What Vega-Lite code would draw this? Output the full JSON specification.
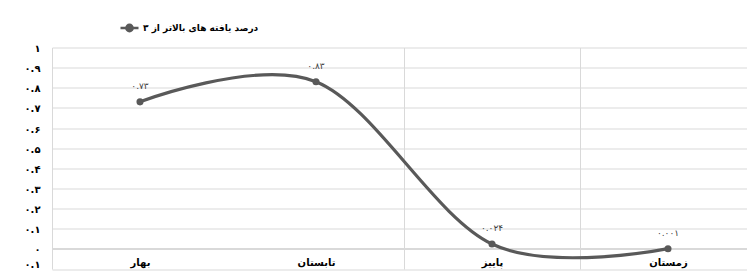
{
  "$schema": "https://vega.github.io/schema/vega-lite/v6.json",
  "autosize": "none",
  "width": 704,
  "height": 221.5,
  "padding": {"left": 52, "top": 47.5, "right": 0, "bottom": 7},
  "data": {
    "values": [
      {"season": "بهار", "value": 0.73, "label": "۰.۷۳", "series": "درصد یافته های بالاتر از ۳"},
      {"season": "تابستان", "value": 0.83, "label": "۰.۸۳", "series": "درصد یافته های بالاتر از ۳"},
      {"season": "پاییز", "value": 0.024, "label": "۰.۰۲۴", "series": "درصد یافته های بالاتر از ۳"},
      {"season": "زمستان", "value": 0.001, "label": "۰.۰۰۱", "series": "درصد یافته های بالاتر از ۳"}
    ]
  },
  "encoding": {
    "x": {
      "field": "season",
      "type": "nominal",
      "sort": null,
      "scale": {"paddingInner": 0, "paddingOuter": 0},
      "axis": {
        "title": null,
        "domain": false,
        "ticks": false,
        "labelAngle": 0,
        "labelPadding": -12,
        "labelFont": "DejaVu Sans",
        "labelFontSize": 10,
        "labelFontWeight": "bold",
        "labelColor": "#000000",
        "grid": true,
        "tickBand": "extent",
        "gridColor": {"condition": {"test": "datum.value === 'بهار'", "value": "transparent"}, "value": "#d9d9d9"},
        "gridWidth": 1
      }
    },
    "y": {
      "field": "value",
      "type": "quantitative",
      "scale": {"domain": [-0.1, 1], "nice": false, "zero": false},
      "axis": {
        "title": null,
        "domain": false,
        "ticks": false,
        "values": [-0.1, 0, 0.1, 0.2, 0.3, 0.4, 0.5, 0.6, 0.7, 0.8, 0.9, 1],
        "labelExpr": "replace(replace(replace(replace(replace(replace(replace(replace(replace(replace(format(abs(datum.value), '.1~f'), '0', '۰'), '1', '۱'), '2', '۲'), '3', '۳'), '4', '۴'), '5', '۵'), '6', '۶'), '7', '۷'), '8', '۸'), '9', '۹')",
        "labelPadding": 12,
        "labelFont": "DejaVu Sans",
        "labelFontSize": 10,
        "labelFontWeight": "bold",
        "labelColor": "#000000",
        "labelOffset": {"condition": {"test": "datum.value < -0.05", "value": -5}, "value": 1},
        "grid": true,
        "gridColor": "#d9d9d9",
        "gridWidth": {"condition": {"test": "datum.value === 0", "value": 2}, "value": 1}
      }
    }
  },
  "layer": [
    {
      "mark": {
        "type": "line",
        "interpolate": "cardinal",
        "tension": 0,
        "strokeWidth": 3.2,
        "point": {"filled": true, "size": 50}
      },
      "encoding": {
        "color": {
          "field": "series",
          "type": "nominal",
          "scale": {"range": ["#595959"]},
          "legend": {
            "title": null,
            "orient": "none",
            "legendX": 67,
            "legendY": -30,
            "padding": 0,
            "symbolType": "M-1,0H1M-0.35,0A0.35,0.35,0,1,0,0.35,0A0.35,0.35,0,1,0,-0.35,0Z",
            "symbolSize": 324,
            "symbolStrokeWidth": 2.5,
            "symbolFillColor": "#595959",
            "symbolStrokeColor": "#595959",
            "labelFont": "DejaVu Sans",
            "labelFontSize": 9,
            "labelFontWeight": "bold",
            "labelColor": "#000000",
            "labelOffset": 3
          }
        }
      }
    },
    {
      "mark": {"type": "text", "dy": -16, "fontSize": 9, "font": "DejaVu Sans", "color": "#404040"},
      "encoding": {"text": {"field": "label"}}
    }
  ],
  "config": {"view": {"stroke": null}}
}
